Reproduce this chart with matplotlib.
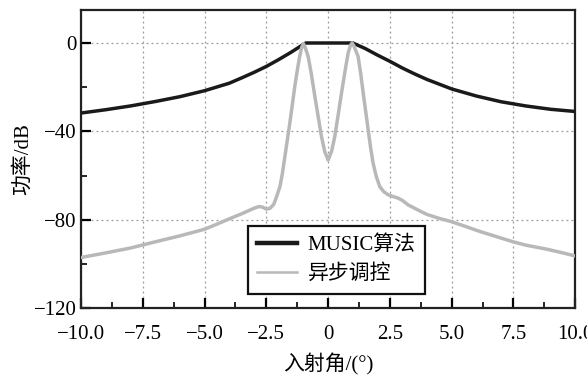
import matplotlib
matplotlib.use('Agg')
import matplotlib.pyplot as plt
from matplotlib.ticker import MultipleLocator

plt.rcParams['font.family'] = ['Liberation Serif', 'Noto Sans CJK SC']
plt.rcParams['axes.unicode_minus'] = True

# MUSIC spectrum (dB) vs incidence angle (deg)
music_x = [-10, -9, -8, -7, -6, -5, -4, -3.5, -3, -2.5, -2, -1.5, -1.0, -0.9,
           0, 0.5, 1.0, 1.5, 2, 2.5, 3, 3.5, 4, 5, 6, 7, 8, 9, 10]
music_y = [-31.7, -30.2, -28.5, -26.5, -24.3, -21.6, -18.2, -15.8, -13.3, -10.6,
           -7.5, -4.2, -0.6, 0, 0, 0, 0, -2.5, -5.5, -8.3, -11.3, -14.0, -16.5,
           -20.8, -24.0, -26.6, -28.5, -30.0, -31.0]

# asynchronous-control spectrum (dB)
async_x = [-10, -9, -8, -7.5, -7, -6, -5, -4.5, -4, -3.5, -3.2, -3.0, -2.8, -2.65,
           -2.5, -2.35, -2.2, -2.1, -1.95, -1.85, -1.75, -1.65, -1.55, -1.45, -1.35,
           -1.25, -1.15, -1.07, -1.0, -0.93, -0.81, -0.68, -0.54, -0.4, -0.27, -0.14,
           0, 0.14, 0.27, 0.4, 0.54, 0.68, 0.81, 0.9, 0.97, 1.05, 1.12, 1.21, 1.32,
           1.42, 1.52, 1.62, 1.72, 1.82, 1.95, 2.09, 2.25, 2.43, 2.6, 2.83, 3.0, 3.24,
           3.5, 3.71, 4.0, 4.5, 4.97, 5.5, 6.14, 7.0, 7.46, 8.0, 8.84, 9.5, 10]
async_y = [-97.1, -95.0, -92.8, -91.4, -90.0, -87.3, -84.3, -82.0, -79.6, -77.3,
           -75.8, -74.8, -74.0, -74.3, -75.2, -74.8, -73.0, -70.0, -65.0, -59.0,
           -51.4, -43.8, -36.2, -28.0, -19.7, -12.5, -6.0, -2.0, -0.3, -2.0, -6.0,
           -14.0, -24.0, -33.5, -42.3, -49.0, -53.0, -49.0, -42.3, -33.0, -22.7,
           -13.0, -4.5, -1.2, 0, -1.5, -3.5, -6.0, -14.0, -22.7, -31.0, -39.3,
           -47.5, -54.4, -60.5, -65.0, -67.3, -68.7, -69.4, -70.2, -71.2, -73.3,
           -74.8, -76.0, -77.6, -79.4, -80.8, -82.8, -85.3, -88.3, -89.9, -91.5,
           -93.3, -95.0, -96.4]

fig = plt.figure(figsize=(5.87, 3.79), dpi=100)
ax = fig.add_axes([0.138, 0.187, 0.842, 0.787])

ax.plot(music_x, music_y, color='#1a1a1a', lw=2.5, label='MUSIC算法', zorder=3)
ax.plot(async_x, async_y, color='#b8b8b8', lw=2.5, label='异步调控', zorder=3)

ax.set_xlim(-10, 10)
ax.set_ylim(-120, 15)

ax.xaxis.set_major_locator(MultipleLocator(2.5))
ax.xaxis.set_minor_locator(MultipleLocator(1.25))
ax.yaxis.set_major_locator(MultipleLocator(40))
ax.yaxis.set_minor_locator(MultipleLocator(20))

def xfmt(v, pos):
    if abs(v) < 1e-9:
        return '0'
    return ('%.1f' % v).replace('-', '\u2212')

ax.xaxis.set_major_formatter(plt.FuncFormatter(xfmt))
ax.yaxis.set_major_formatter(plt.FuncFormatter(lambda v, p: ('%d' % v).replace('-', '\u2212')))

ax.tick_params(which='major', direction='in', length=7, width=1.6, labelsize=15,
               top=False, right=False)
ax.tick_params(which='minor', direction='in', length=4, width=1.2,
               top=False, right=False)
ax.tick_params(axis='x', which='major', pad=12)
ax.tick_params(axis='y', which='major', pad=3)

ax.grid(True, which='major', linestyle=(0, (1.5, 2.5)), color='#999999', lw=0.9)
for s in ax.spines.values():
    s.set_linewidth(1.6)
    s.set_color('#222222')

ax.set_xlabel('入射角/(°)', fontsize=15, labelpad=7)
ax.set_ylabel('功率/dB', fontsize=15, labelpad=1)

leg = ax.legend(loc='lower left', bbox_to_anchor=(0.338, 0.049), borderaxespad=0,
                fontsize=15, frameon=True, fancybox=False, edgecolor='#111111',
                handlelength=1.9, handletextpad=0.5, borderpad=0.45, labelspacing=0.45)
leg.get_frame().set_linewidth(1.6)
leg.get_frame().set_alpha(1)
handles = leg.get_lines()
handles[0].set_linewidth(3.2)
handles[1].set_linewidth(1.8)

fig.savefig('out.png', dpi=100)
